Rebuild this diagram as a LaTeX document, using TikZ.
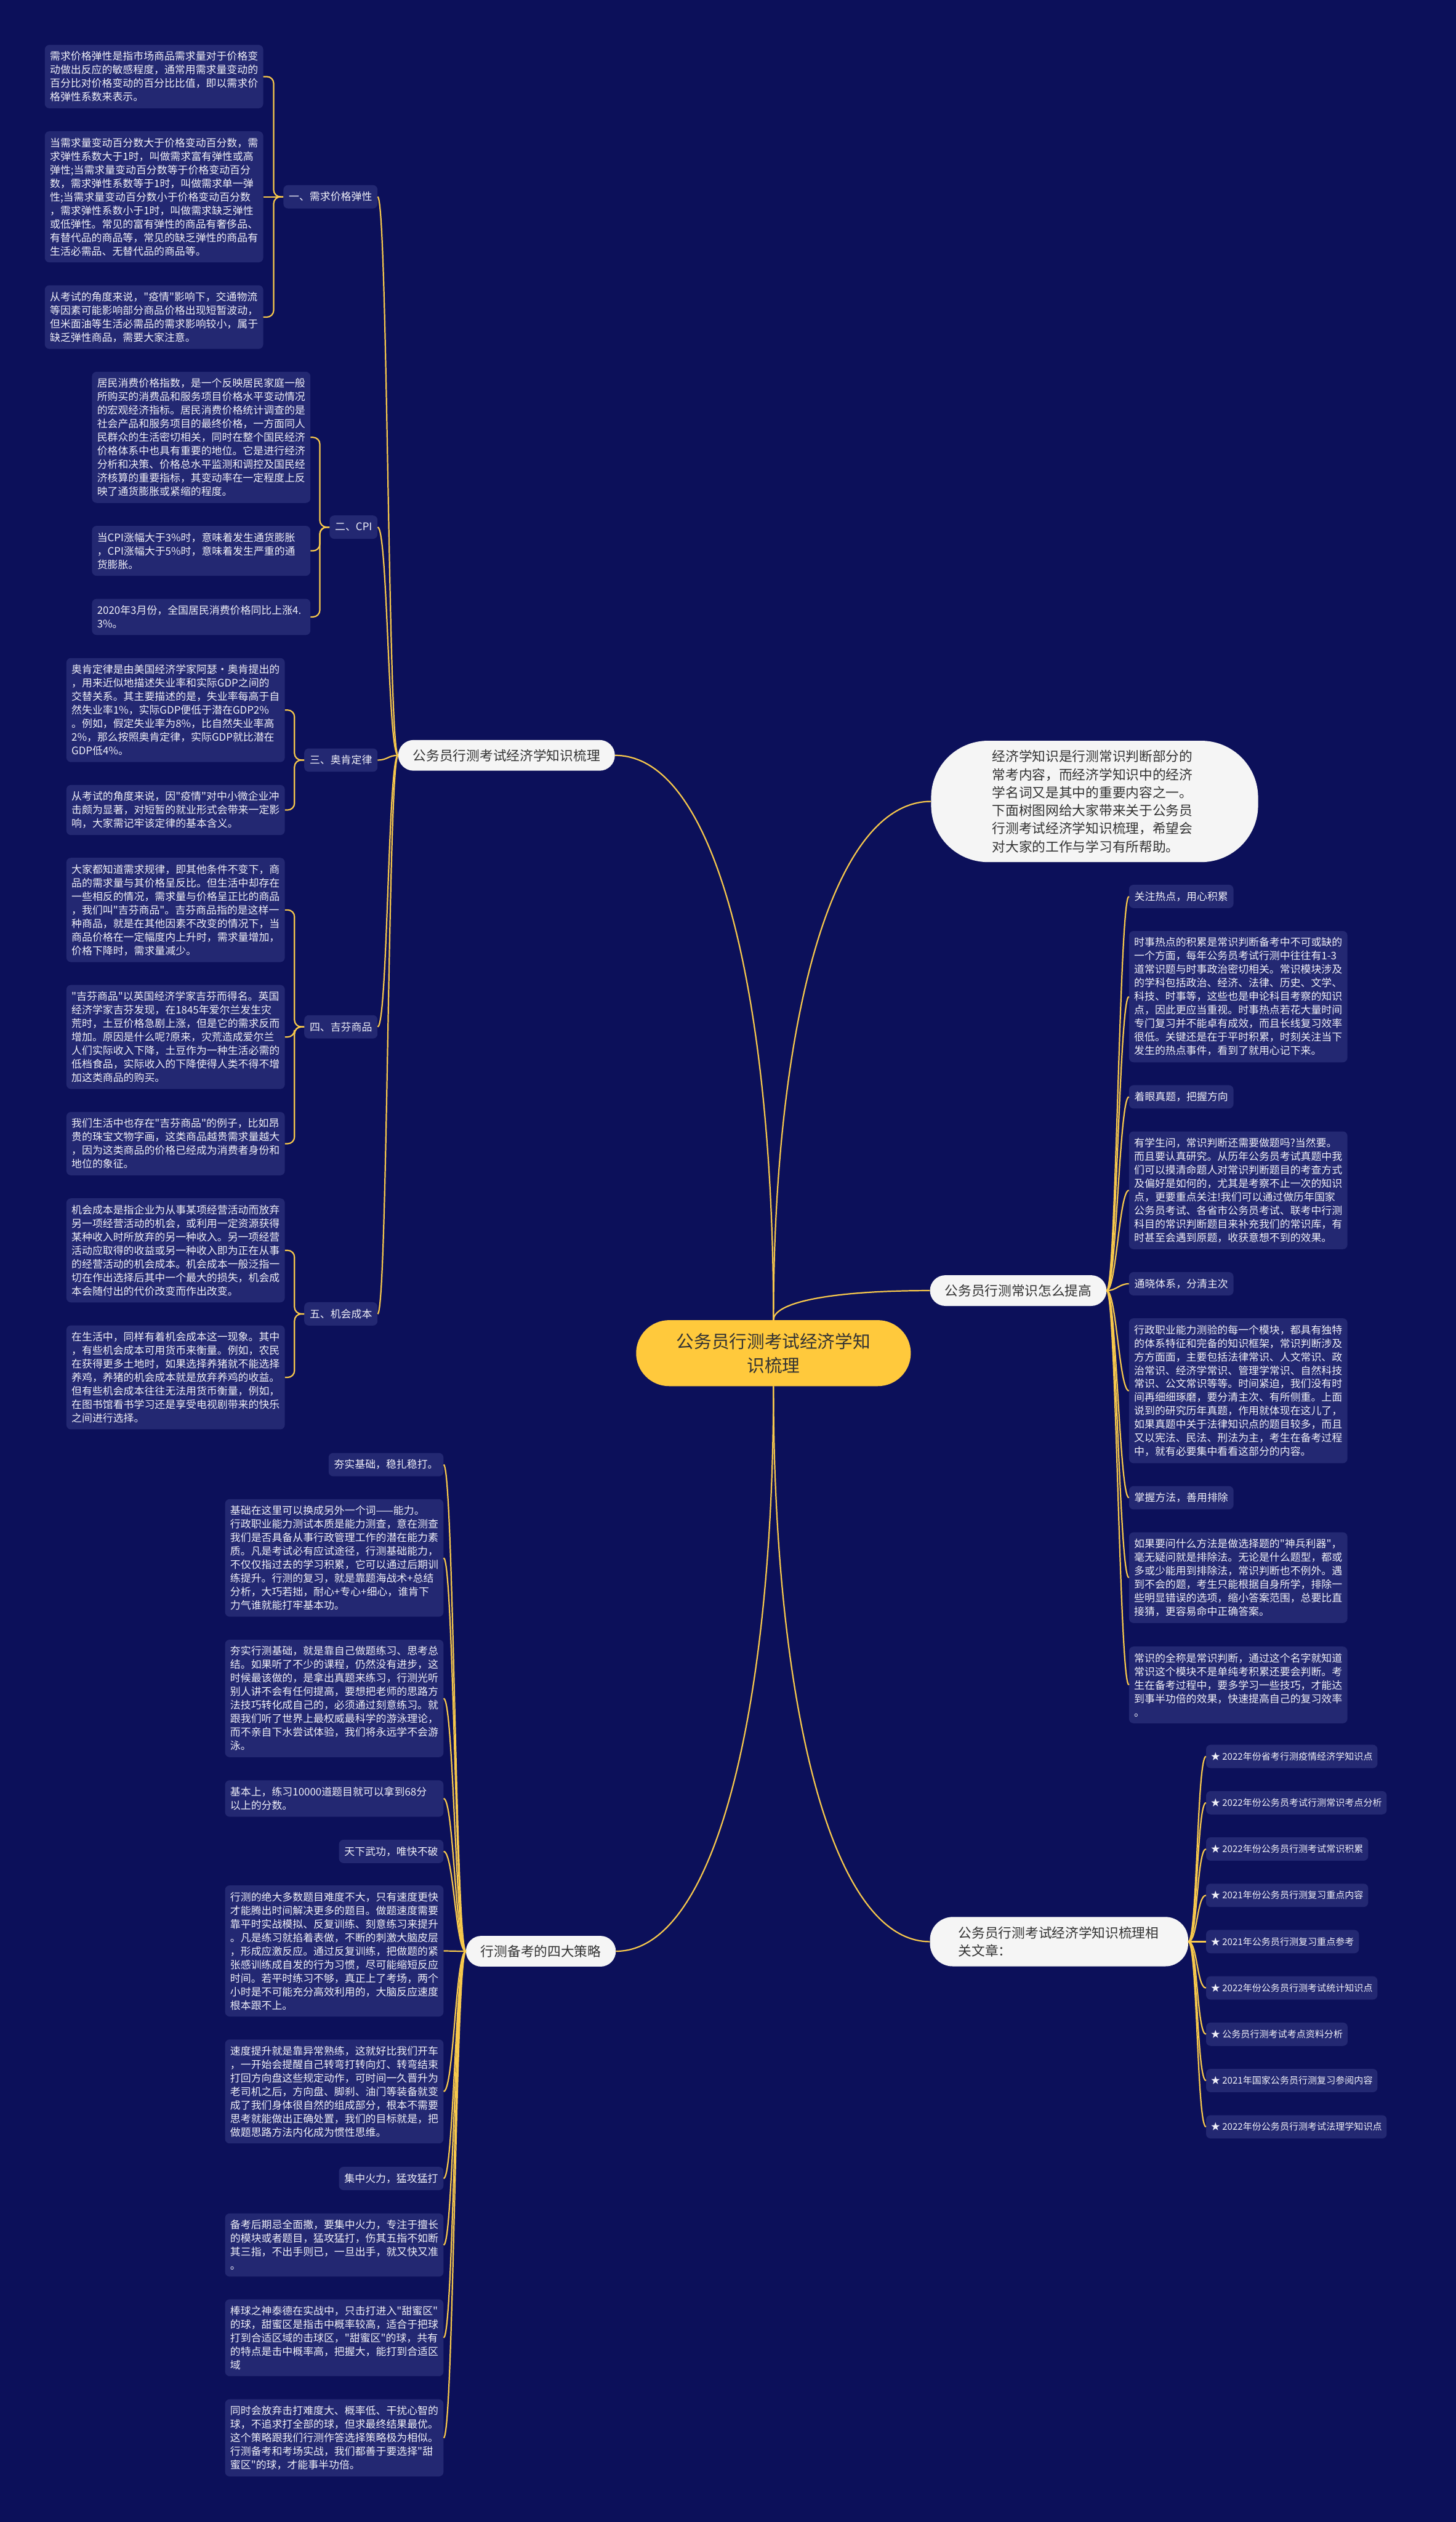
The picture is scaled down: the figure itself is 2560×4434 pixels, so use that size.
\documentclass[tikz,border=0pt]{standalone}
\usepackage{fontspec}
\usepackage{tikz}
\newfontfamily\cjk{Noto Sans CJK SC}
\definecolor{navybg}{RGB}{12,16,90}
\definecolor{boxfill}{RGB}{35,40,114}
\definecolor{goldline}{RGB}{247,200,76}
\definecolor{rootfill}{RGB}{255,201,60}
\definecolor{pillfill}{RGB}{245,245,245}
\definecolor{darktext}{RGB}{51,51,51}
\definecolor{leaftext}{RGB}{240,240,248}

\begin{document}
\begin{tikzpicture}[x=1pt, y=-1pt,
    link/.style={draw=goldline, line width=2.4pt},
    note/.style={fill=boxfill, text=leaftext, rounded corners=8pt, inner xsep=9pt, inner ysep=11.5pt, text width=366pt, align=left, font=\cjk\fontsize{18.3pt}{23.8pt}\selectfont},
    topic/.style={fill=boxfill, text=leaftext, rounded corners=8pt, inner xsep=9.5pt, inner ysep=3pt, minimum height=41pt, font=\cjk\fontsize{18.3pt}{23.8pt}\selectfont},
    relitem/.style={topic, inner xsep=8.5pt, font=\cjk\fontsize{16.3pt}{22pt}\selectfont},
    pill/.style={fill=pillfill, text=darktext, rounded corners=27pt, inner xsep=26pt, inner ysep=4pt, minimum height=54pt, font=\cjk\fontsize{23.5pt}{32pt}\selectfont}]
  \useasboundingbox (0,0) rectangle (2560,4434);
  \fill[navybg] (0,0) rectangle (2560,4434);

  \node[fill=rootfill, text=darktext, rounded corners=58pt, minimum width=483pt, minimum height=116pt, align=center, font=\cjk\fontsize{31pt}{42pt}\selectfont] (root) at (1360,2379) {公务员行测考试经济学知\\识梳理};

  \node[pill, anchor=west] (econ) at (700,1328) {公务员行测考试经济学知识梳理};
  \node[pill, anchor=west, rounded corners=100pt, text width=360pt, inner xsep=107.5pt, inner ysep=16.5pt, align=left, font=\cjk\fontsize{23.5pt}{31.7pt}\selectfont] (intro) at (1637,1409) {经济学知识是行测常识判断部分的\\常考内容，而经济学知识中的经济\\学名词又是其中的重要内容之一。\\下面树图网给大家带来关于公务员\\行测考试经济学知识梳理，希望会\\对大家的工作与学习有所帮助。};
  \node[pill, anchor=west] (skill) at (1635,2269) {公务员行测常识怎么提高};
  \node[pill, anchor=east] (strat) at (1083,3430.5) {行测备考的四大策略};
  \node[pill, anchor=west, rounded corners=40pt, text width=354pt, inner xsep=50pt, inner ysep=16.5pt, align=left] (rel) at (1635,3413.6) {公务员行测考试经济学知识梳理相\\关文章：};

  \node[topic, anchor=east] (s1) at (664,346) {一、需求价格弹性};
  \node[note, anchor=east] (a1) at (463,134.7) {需求价格弹性是指市场商品需求量对于价格变\\动做出反应的敏感程度，通常用需求量变动的\\百分比对价格变动的百分比比值，即以需求价\\格弹性系数来表示。};
  \node[note, anchor=east] (a2) at (463,346) {当需求量变动百分数大于价格变动百分数，需\\求弹性系数大于1时，叫做需求富有弹性或高\\弹性;当需求量变动百分数等于价格变动百分\\数，需求弹性系数等于1时，叫做需求单一弹\\性;当需求量变动百分数小于价格变动百分数\\，需求弹性系数小于1时，叫做需求缺乏弹性\\或低弹性。常见的富有弹性的商品有奢侈品、\\有替代品的商品等，常见的缺乏弹性的商品有\\生活必需品、无替代品的商品等。};
  \node[note, anchor=east] (a3) at (463,557.5) {从考试的角度来说，"疫情"影响下，交通物流\\等因素可能影响部分商品价格出现短暂波动，\\但米面油等生活必需品的需求影响较小，属于\\缺乏弹性商品，需要大家注意。};

  \node[topic, anchor=east] (s2) at (664,926.8) {二、CPI};
  \node[note, anchor=east] (b1) at (546,768.9) {居民消费价格指数，是一个反映居民家庭一般\\所购买的消费品和服务项目价格水平变动情况\\的宏观经济指标。居民消费价格统计调查的是\\社会产品和服务项目的最终价格，一方面同人\\民群众的生活密切相关，同时在整个国民经济\\价格体系中也具有重要的地位。它是进行经济\\分析和决策、价格总水平监测和调控及国民经\\济核算的重要指标，其变动率在一定程度上反\\映了通货膨胀或紧缩的程度。};
  \node[note, anchor=east] (b2) at (546,968.4) {当CPI涨幅大于3\%时，意味着发生通货膨胀\\，CPI涨幅大于5\%时，意味着发生严重的通\\货膨胀。};
  \node[note, anchor=east] (b3) at (546,1084.6) {2020年3月份，全国居民消费价格同比上涨4.\\3\%。};

  \node[topic, anchor=east] (s3) at (664,1336.3) {三、奥肯定律};
  \node[note, anchor=east] (c1) at (501,1248.4) {奥肯定律是由美国经济学家阿瑟·奥肯提出的\\，用来近似地描述失业率和实际GDP之间的\\交替关系。其主要描述的是，失业率每高于自\\然失业率1\%，实际GDP便低于潜在GDP2\%\\。例如，假定失业率为8\%，比自然失业率高\\2\%，那么按照奥肯定律，实际GDP就比潜在\\GDP低4\%。};
  \node[note, anchor=east] (c2) at (501,1424.1) {从考试的角度来说，因"疫情"对中小微企业冲\\击颇为显著，对短暂的就业形式会带来一定影\\响，大家需记牢该定律的基本含义。};

  \node[topic, anchor=east] (s4) at (664,1805.3) {四、吉芬商品};
  \node[note, anchor=east] (d1) at (501,1599.8) {大家都知道需求规律，即其他条件不变下，商\\品的需求量与其价格呈反比。但生活中却存在\\一些相反的情况，需求量与价格呈正比的商品\\，我们叫"吉芬商品"。吉芬商品指的是这样一\\种商品，就是在其他因素不改变的情况下，当\\商品价格在一定幅度内上升时，需求量增加，\\价格下降时，需求量减少。};
  \node[note, anchor=east] (d2) at (501,1823.1) {"吉芬商品"以英国经济学家吉芬而得名。英国\\经济学家吉芬发现，在1845年爱尔兰发生灾\\荒时，土豆价格急剧上涨，但是它的需求反而\\增加。原因是什么呢?原来，灾荒造成爱尔兰\\人们实际收入下降，土豆作为一种生活必需的\\低档食品，实际收入的下降使得人类不得不增\\加这类商品的购买。};
  \node[note, anchor=east] (d3) at (501,2010.7) {我们生活中也存在"吉芬商品"的例子，比如昂\\贵的珠宝文物字画，这类商品越贵需求量越大\\，因为这类商品的价格已经成为消费者身份和\\地位的象征。};

  \node[topic, anchor=east] (s5) at (664,2310) {五、机会成本};
  \node[note, anchor=east] (f1) at (501,2198.3) {机会成本是指企业为从事某项经营活动而放弃\\另一项经营活动的机会，或利用一定资源获得\\某种收入时所放弃的另一种收入。另一项经营\\活动应取得的收益或另一种收入即为正在从事\\的经营活动的机会成本。机会成本一般泛指一\\切在作出选择后其中一个最大的损失，机会成\\本会随付出的代价改变而作出改变。};
  \node[note, anchor=east] (f2) at (501,2421.6) {在生活中，同样有着机会成本这一现象。其中\\，有些机会成本可用货币来衡量。例如，农民\\在获得更多土地时，如果选择养猪就不能选择\\养鸡，养猪的机会成本就是放弃养鸡的收益。\\但有些机会成本往往无法用货币衡量，例如，\\在图书馆看书学习还是享受电视剧带来的快乐\\之间进行选择。};

  \node[topic, anchor=west] (k1) at (1985,1576) {关注热点，用心积累};
  \node[note, anchor=west] (k2) at (1985,1752.2) {时事热点的积累是常识判断备考中不可或缺的\\一个方面，每年公务员考试行测中往往有1-3\\道常识题与时事政治密切相关。常识模块涉及\\的学科包括政治、经济、法律、历史、文学、\\科技、时事等，这些也是申论科目考察的知识\\点，因此更应当重视。时事热点若花大量时间\\专门复习并不能卓有成效，而且长线复习效率\\很低。关键还是在于平时积累，时刻关注当下\\发生的热点事件，看到了就用心记下来。};
  \node[topic, anchor=west] (k3) at (1985,1928.4) {着眼真题，把握方向};
  \node[note, anchor=west] (k4) at (1985,2092.7) {有学生问，常识判断还需要做题吗?当然要。\\而且要认真研究。从历年公务员考试真题中我\\们可以摸清命题人对常识判断题目的考查方式\\及偏好是如何的，尤其是考察不止一次的知识\\点，更要重点关注!我们可以通过做历年国家\\公务员考试、各省市公务员考试、联考中行测\\科目的常识判断题目来补充我们的常识库，有\\时甚至会遇到原题，收获意想不到的效果。};
  \node[topic, anchor=west] (k5) at (1985,2257) {通晓体系，分清主次};
  \node[note, anchor=west] (k6) at (1985,2445.1) {行政职业能力测验的每一个模块，都具有独特\\的体系特征和完备的知识框架，常识判断涉及\\方方面面，主要包括法律常识、人文常识、政\\治常识、经济学常识、管理学常识、自然科技\\常识、公文常识等等。时间紧迫，我们没有时\\间再细细琢磨，要分清主次、有所侧重。上面\\说到的研究历年真题，作用就体现在这儿了，\\如果真题中关于法律知识点的题目较多，而且\\又以宪法、民法、刑法为主，考生在备考过程\\中，就有必要集中看看这部分的内容。};
  \node[topic, anchor=west] (k7) at (1985,2633.2) {掌握方法，善用排除};
  \node[note, anchor=west] (k8) at (1985,2773.7) {如果要问什么方法是做选择题的"神兵利器"，\\毫无疑问就是排除法。无论是什么题型，都或\\多或少能用到排除法，常识判断也不例外。遇\\到不会的题，考生只能根据自身所学，排除一\\些明显错误的选项，缩小答案范围，总要比直\\接猜，更容易命中正确答案。};
  \node[note, anchor=west] (k9) at (1985,2962.3) {常识的全称是常识判断，通过这个名字就知道\\常识这个模块不是单纯考积累还要会判断。考\\生在备考过程中，要多学习一些技巧，才能达\\到事半功倍的效果，快速提高自己的复习效率\\。};

  \node[topic, anchor=east] (m1) at (780,2575) {夯实基础，稳扎稳打。};
  \node[note, anchor=east] (m2) at (780,2739) {基础在这里可以换成另外一个词——能力。\\行政职业能力测试本质是能力测查，意在测查\\我们是否具备从事行政管理工作的潜在能力素\\质。凡是考试必有应试途径，行测基础能力，\\不仅仅指过去的学习积累，它可以通过后期训\\练提升。行测的复习，就是靠题海战术+总结\\分析，大巧若拙，耐心+专心+细心，谁肯下\\力气谁就能打牢基本功。};
  \node[note, anchor=east] (m3) at (780,2986) {夯实行测基础，就是靠自己做题练习、思考总\\结。如果听了不少的课程，仍然没有进步，这\\时候最该做的，是拿出真题来练习，行测光听\\别人讲不会有任何提高，要想把老师的思路方\\法技巧转化成自己的，必须通过刻意练习。就\\跟我们听了世界上最权威最科学的游泳理论，\\而不亲自下水尝试体验，我们将永远学不会游\\泳。};
  \node[note, anchor=east] (m4) at (780,3162) {基本上，练习10000道题目就可以拿到68分\\以上的分数。};
  \node[topic, anchor=east] (m5) at (780,3255) {天下武功，唯快不破};
  \node[note, anchor=east] (m6) at (780,3430) {行测的绝大多数题目难度不大，只有速度更快\\才能腾出时间解决更多的题目。做题速度需要\\靠平时实战模拟、反复训练、刻意练习来提升\\。凡是练习就掐着表做，不断的刺激大脑皮层\\，形成应激反应。通过反复训练，把做题的紧\\张感训练成自发的行为习惯，尽可能缩短反应\\时间。若平时练习不够，真正上了考场，两个\\小时是不可能充分高效利用的，大脑反应速度\\根本跟不上。};
  \node[note, anchor=east] (m7) at (780,3677) {速度提升就是靠异常熟练，这就好比我们开车\\，一开始会提醒自己转弯打转向灯、转弯结束\\打回方向盘这些规定动作，可时间一久晋升为\\老司机之后，方向盘、脚刹、油门等装备就变\\成了我们身体很自然的组成部分，根本不需要\\思考就能做出正确处置，我们的目标就是，把\\做题思路方法内化成为惯性思维。};
  \node[topic, anchor=east] (m8) at (780,3830) {集中火力，猛攻猛打};
  \node[note, anchor=east] (m9) at (780,3947) {备考后期忌全面撒，要集中火力，专注于擅长\\的模块或者题目，猛攻猛打，伤其五指不如断\\其三指，不出手则已，一旦出手，就又快又准\\。};
  \node[note, anchor=east] (m10) at (780,4110) {棒球之神泰德在实战中，只击打进入"甜蜜区"\\的球，甜蜜区是指击中概率较高，适合于把球\\打到合适区域的击球区，"甜蜜区"的球，共有\\的特点是击中概率高，把握大，能打到合适区\\域};
  \node[note, anchor=east] (m11) at (780,4286) {同时会放弃击打难度大、概率低、干扰心智的\\球，不追求打全部的球，但求最终结果最优。\\这个策略跟我们行测作答选择策略极为相似。\\行测备考和考场实战，我们都善于要选择"甜\\蜜区"的球，才能事半功倍。};

  \node[relitem, anchor=west] (t1) at (2120.5,3088) {★ 2022年份省考行测疫情经济学知识点};
  \node[relitem, anchor=west] (t2) at (2120.5,3169.4) {★ 2022年份公务员考试行测常识考点分析};
  \node[relitem, anchor=west] (t3) at (2120.5,3250.8) {★ 2022年份公务员行测考试常识积累};
  \node[relitem, anchor=west] (t4) at (2120.5,3332.2) {★ 2021年份公务员行测复习重点内容};
  \node[relitem, anchor=west] (t5) at (2120.5,3413.6) {★ 2021年公务员行测复习重点参考};
  \node[relitem, anchor=west] (t6) at (2120.5,3495) {★ 2022年份公务员行测考试统计知识点};
  \node[relitem, anchor=west] (t7) at (2120.5,3576.4) {★ 公务员行测考试考点资料分析};
  \node[relitem, anchor=west] (t8) at (2120.5,3657.8) {★ 2021年国家公务员行测复习参阅内容};
  \node[relitem, anchor=west] (t9) at (2120.5,3739.2) {★ 2022年份公务员行测考试法理学知识点};

  \draw[link] (root.north) .. controls +(0,-546) and +(184,0) .. (econ.east);
  \draw[link] (root.north) .. controls +(0,-502) and +(-180,0) .. (intro.west);
  \draw[link] (root.north) .. controls +(0,-30) and +(-180,0) .. (skill.west);
  \draw[link] (root.south) .. controls +(0,546) and +(180,0) .. (strat.east);
  \draw[link] (root.south) .. controls +(0,537) and +(-179,0) .. (rel.west);

  \foreach \c in {s1,s2,s3,s4,s5}
    \draw[link] (econ.west) .. controls +(-18,0) and +(18,0) .. (\c.east);
  \foreach \p/\c in {s1/a1,s1/a3,s2/b1,s2/b2,s2/b3,s3/c1,s3/c2,s4/d1,s4/d2,s4/d3,s5/f1,s5/f2}
    \draw[link] (\c.east) [rounded corners=12pt] -| ([xshift=-17pt]\p.west) [sharp corners] -- (\p.west);
  \draw[link] (s1.west) -- (a2.east);
  \foreach \c in {k1,k2,k3,k4,k5,k6,k7,k8,k9}
    \draw[link] (skill.east) .. controls +(17,0) and +(-17,0) .. (\c.west);
  \foreach \c in {m1,m2,m3,m4,m5,m6,m7,m8,m9,m10,m11}
    \draw[link] (strat.west) .. controls +(-18,0) and +(18,0) .. (\c.east);
  \foreach \c in {t1,t2,t3,t4,t5,t6,t7,t8,t9}
    \draw[link] (rel.east) .. controls +(16,0) and +(-16,0) .. (\c.west);
\end{tikzpicture}
\end{document}
